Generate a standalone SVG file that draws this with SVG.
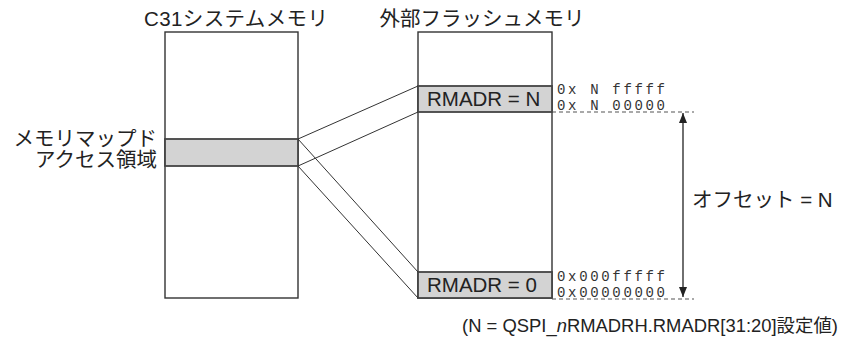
<svg xmlns="http://www.w3.org/2000/svg" width="841" height="340" viewBox="0 0 841 340">
<style>
.box{fill:#fff;stroke:#333;stroke-width:1.4}
.band{fill:#d3d3d3;stroke:#444;stroke-width:1.8}
.ln{stroke:#333;stroke-width:1;fill:none}
.dash{stroke:#555;stroke-width:1.2;stroke-dasharray:4,3;fill:none}
.t{font-family:"Liberation Sans","Noto Sans CJK JP",sans-serif;fill:#222}
.m{font-family:"Liberation Mono",monospace;font-size:14px;fill:#333}
</style>
<defs>
<marker id="ah" viewBox="0 0 10 10" refX="10" refY="5" markerWidth="10" markerHeight="10" markerUnits="userSpaceOnUse" orient="auto-start-reverse">
<path d="M0,1 L10,5 L0,9 Z" fill="#222"/>
</marker>
</defs>
<rect width="841" height="340" fill="#fff"/>
<g id="sys-memory">
<text class="t" x="236" y="26" font-size="20.5" text-anchor="middle" textLength="184" lengthAdjust="spacing">C31システムメモリ</text>
<rect class="box" x="165" y="32" width="133" height="266"/>
<rect class="band" x="165" y="139" width="133" height="27"/>
<text class="t" x="157" y="146" font-size="20.5" text-anchor="end">メモリマップド</text>
<text class="t" x="157" y="167" font-size="20.5" text-anchor="end">アクセス領域</text>
</g>
<g id="flash-memory">
<text class="t" x="482" y="26" font-size="20.5" text-anchor="middle">外部フラッシュメモリ</text>
<rect class="box" x="418" y="32" width="134" height="266"/>
</g>
<g id="band-n">
<rect class="band" x="418" y="86" width="134" height="26"/>
<text class="t" x="427" y="106" font-size="20.5">RMADR = N</text>
<text class="m" x="557" y="94" textLength="108" lengthAdjust="spacing">0x N fffff</text>
<text class="m" x="557" y="110" textLength="108" lengthAdjust="spacing">0x N 00000</text>
</g>
<g id="band-0">
<rect class="band" x="418" y="272" width="134" height="26"/>
<text class="t" x="427" y="292" font-size="20.5">RMADR = 0</text>
<text class="m" x="557" y="281" textLength="108" lengthAdjust="spacing">0x000fffff</text>
<text class="m" x="557" y="297" textLength="108" lengthAdjust="spacing">0x00000000</text>
</g>
<g id="connectors">
<line class="ln" x1="298" y1="139" x2="418" y2="86"/>
<line class="ln" x1="298" y1="166" x2="418" y2="112"/>
<line class="ln" x1="298" y1="139" x2="418" y2="272"/>
<line class="ln" x1="298" y1="166" x2="418" y2="298"/>
<line class="dash" x1="552" y1="112" x2="694" y2="112"/>
<line class="dash" x1="552" y1="299" x2="694" y2="299"/>
<line x1="683" y1="113" x2="683" y2="297" stroke="#222" stroke-width="1.3" marker-start="url(#ah)" marker-end="url(#ah)"/>
</g>
<g id="offset-label">
<text class="t" x="692" y="207" font-size="20.5">オフセット = N</text>
</g>
<g id="footnote">
<text class="t" x="838" y="332" font-size="18" text-anchor="end" textLength="376" lengthAdjust="spacingAndGlyphs">(N = QSPI_<tspan font-style="italic">n</tspan>RMADRH.RMADR[31:20]設定値)</text>
</g>
</svg>
